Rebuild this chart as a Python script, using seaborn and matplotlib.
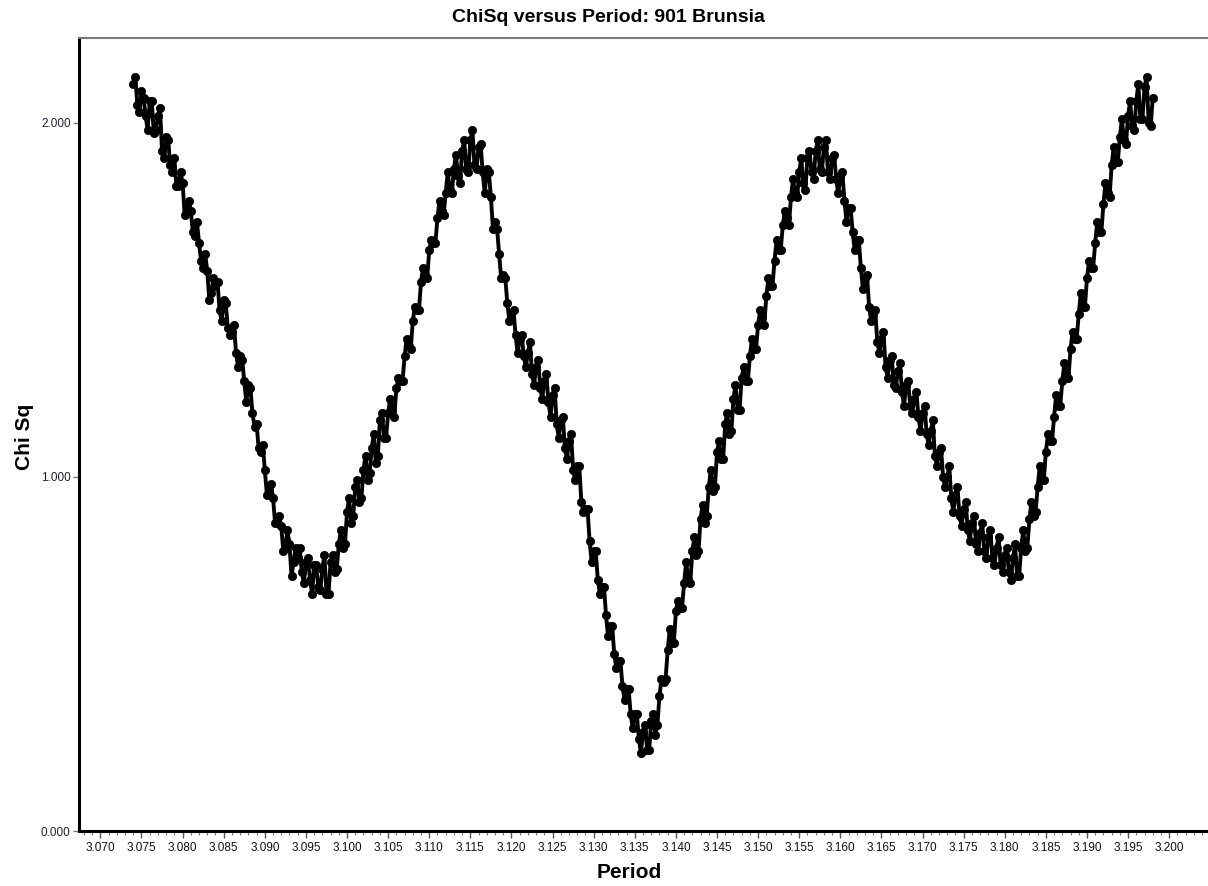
import numpy as np
import pandas as pd
import matplotlib
matplotlib.use("Agg")
import matplotlib.pyplot as plt
import seaborn as sns
from matplotlib.ticker import MultipleLocator, FormatStrFormatter

# Period search grid (step 0.0005 d), plus the intermediate trial periods
period_start = 3.0740
period_step = 0.0005

# Chi-square values at the main grid periods
chisq_grid = [
    2.11, 2.05, 2.09, 2.02, 2.06, 1.97, 2.02, 1.92, 1.96, 1.88,
    1.90, 1.82, 1.83, 1.76, 1.75, 1.68, 1.66, 1.59, 1.58, 1.52,
    1.54, 1.47, 1.50, 1.42, 1.41, 1.35, 1.34, 1.27, 1.26, 1.18,
    1.15, 1.07, 1.02, 0.96, 0.94, 0.87, 0.86, 0.80, 0.81, 0.76,
    0.77, 0.73, 0.76, 0.71, 0.75, 0.69, 0.74, 0.67, 0.76, 0.73,
    0.81, 0.80, 0.90, 0.87, 0.97, 0.93, 1.02, 0.99, 1.08, 1.04,
    1.16, 1.11, 1.18, 1.19, 1.25, 1.27, 1.34, 1.37, 1.44, 1.47,
    1.55, 1.57, 1.64, 1.66, 1.73, 1.75, 1.80, 1.81, 1.87, 1.85,
    1.92, 1.87, 1.95, 1.88, 1.93, 1.86, 1.87, 1.79, 1.72, 1.63,
    1.57, 1.49, 1.46, 1.40, 1.39, 1.34, 1.35, 1.29, 1.31, 1.25,
    1.27, 1.21, 1.23, 1.15, 1.16, 1.08, 1.10, 1.02, 1.03, 0.93,
    0.91, 0.82, 0.79, 0.71, 0.69, 0.61, 0.58, 0.50, 0.48, 0.41,
    0.40, 0.33, 0.33, 0.26, 0.28, 0.23, 0.31, 0.27, 0.38, 0.42,
    0.51, 0.53, 0.62, 0.63, 0.70, 0.71, 0.79, 0.78, 0.88, 0.87,
    0.97, 0.96, 1.07, 1.05, 1.15, 1.12, 1.22, 1.19, 1.28, 1.27,
    1.34, 1.36, 1.43, 1.45, 1.51, 1.54, 1.61, 1.64, 1.71, 1.73,
    1.79, 1.80, 1.86, 1.83, 1.90, 1.86, 1.92, 1.87, 1.93, 1.86,
    1.90, 1.84, 1.85, 1.78, 1.76, 1.69, 1.67, 1.59, 1.56, 1.48,
    1.46, 1.38, 1.39, 1.31, 1.33, 1.26, 1.30, 1.24, 1.26, 1.20,
    1.22, 1.17, 1.18, 1.12, 1.13, 1.06, 1.07, 1.00, 1.00, 0.94,
    0.95, 0.89, 0.91, 0.85, 0.87, 0.81, 0.84, 0.79, 0.83, 0.77,
    0.80, 0.75, 0.78, 0.73, 0.77, 0.72, 0.80, 0.79, 0.88, 0.89,
    0.97, 0.99, 1.07, 1.10, 1.17, 1.20, 1.27, 1.29, 1.36, 1.39,
    1.46, 1.48, 1.56, 1.59, 1.66, 1.69, 1.77, 1.80, 1.88, 1.89,
    1.96, 1.95, 2.02, 1.99, 2.06, 2.01, 2.10, 2.00, 2.07,
]

# Chi-square values at the intermediate periods (half a step later)
chisq_mid = [
    2.13, 2.03, 2.07, 1.98, 2.06, 1.98, 2.04, 1.90, 1.95, 1.86,
    1.82, 1.86, 1.74, 1.78, 1.69, 1.72, 1.61, 1.63, 1.50, 1.56,
    1.55, 1.44, 1.49, 1.40, 1.43, 1.31, 1.33, 1.21, 1.25, 1.14,
    1.08, 1.09, 0.95, 0.98, 0.87, 0.89, 0.79, 0.85, 0.72, 0.80,
    0.80, 0.70, 0.77, 0.67, 0.75, 0.68, 0.78, 0.67, 0.78, 0.74,
    0.85, 0.81, 0.94, 0.89, 0.99, 0.94, 1.06, 1.01, 1.12, 1.06,
    1.18, 1.11, 1.22, 1.17, 1.28, 1.27, 1.39, 1.36, 1.48, 1.47,
    1.59, 1.56, 1.67, 1.66, 1.78, 1.74, 1.86, 1.80, 1.91, 1.83,
    1.95, 1.86, 1.98, 1.87, 1.94, 1.80, 1.86, 1.70, 1.70, 1.56,
    1.56, 1.44, 1.47, 1.35, 1.40, 1.31, 1.38, 1.26, 1.33, 1.22,
    1.29, 1.17, 1.25, 1.11, 1.17, 1.05, 1.12, 0.99, 1.03, 0.90,
    0.91, 0.76, 0.79, 0.67, 0.69, 0.55, 0.58, 0.46, 0.48, 0.37,
    0.40, 0.29, 0.33, 0.22, 0.30, 0.23, 0.33, 0.30, 0.43, 0.43,
    0.57, 0.53, 0.65, 0.63, 0.76, 0.70, 0.83, 0.79, 0.92, 0.89,
    1.02, 0.97, 1.10, 1.05, 1.18, 1.13, 1.26, 1.19, 1.31, 1.27,
    1.39, 1.36, 1.47, 1.43, 1.56, 1.54, 1.67, 1.64, 1.75, 1.71,
    1.84, 1.79, 1.90, 1.81, 1.92, 1.84, 1.95, 1.86, 1.95, 1.84,
    1.91, 1.80, 1.86, 1.72, 1.76, 1.64, 1.67, 1.53, 1.57, 1.44,
    1.47, 1.35, 1.41, 1.28, 1.34, 1.25, 1.32, 1.20, 1.27, 1.18,
    1.24, 1.13, 1.20, 1.09, 1.16, 1.03, 1.08, 0.97, 1.03, 0.90,
    0.97, 0.86, 0.93, 0.82, 0.89, 0.79, 0.87, 0.77, 0.85, 0.75,
    0.83, 0.73, 0.80, 0.71, 0.81, 0.72, 0.85, 0.80, 0.93, 0.90,
    1.03, 0.99, 1.12, 1.10, 1.23, 1.20, 1.32, 1.28, 1.41, 1.39,
    1.52, 1.48, 1.61, 1.59, 1.72, 1.69, 1.83, 1.79, 1.93, 1.89,
    2.01, 1.94, 2.06, 1.98, 2.11, 2.01, 2.13, 1.99,
]

period_grid = np.round(period_start + period_step * np.arange(len(chisq_grid)), 5)
period_mid = np.round(period_start + period_step * (np.arange(len(chisq_mid)) + 0.5), 5)

title = "ChiSq versus Period: 901 Brunsia"
x_label = "Period"
y_label = "Chi Sq"

df = pd.DataFrame({
    "Period": np.concatenate([period_grid, period_mid]),
    "ChiSq": np.concatenate([chisq_grid, chisq_mid]),
}).sort_values("Period").reset_index(drop=True)

sns.set_theme(style="white")
plt.rcParams["font.family"] = ["Liberation Sans", "DejaVu Sans"]
plt.rcParams["text.color"] = "black"

fig = plt.figure(figsize=(12.08, 8.86), dpi=100)
ax = fig.add_axes([79 / 1208, 1 - 831 / 886, (1207 - 79) / 1208, (831 - 38) / 886])

sns.lineplot(data=df, x="Period", y="ChiSq", ax=ax, sort=False, estimator=None,
             color="black", linewidth=2.8, marker="o", markersize=6,
             markeredgecolor="black", markeredgewidth=0.5)

ax.set_xlim(3.0674, 3.2046)
ax.set_ylim(0.0, 2.239)

ax.xaxis.set_major_locator(MultipleLocator(0.005))
ax.xaxis.set_minor_locator(MultipleLocator(0.001))
ax.xaxis.set_major_formatter(FormatStrFormatter("%.3f"))
ax.yaxis.set_major_locator(MultipleLocator(1.0))
ax.yaxis.set_major_formatter(FormatStrFormatter("%.3f"))

ax.tick_params(axis="x", which="major", direction="out", length=5, width=1,
               color="#555555", labelsize=8.5, labelcolor="#111111", pad=3,
               bottom=True)
ax.tick_params(axis="x", which="minor", direction="out", length=3, width=0.8,
               color="#777777", bottom=True)
ax.tick_params(axis="y", which="major", direction="out", length=4, width=1,
               color="#777777", labelsize=8.5, labelcolor="#222233", pad=2,
               left=True)

ax.set_xlabel("")
ax.set_ylabel("")

for side in ["left", "bottom"]:
    ax.spines[side].set_color("black")
    ax.spines[side].set_linewidth(2.2)
ax.spines["top"].set_color("#777777")
ax.spines["top"].set_linewidth(1.5)
ax.spines["right"].set_visible(False)

fig.text(608 / 1208, 1 - 17 / 886, title, ha="center", va="center",
         fontsize=14, fontweight="bold", color="black")
fig.text(629 / 1208, 1 - 872 / 886, x_label, ha="center", va="center",
         fontsize=15, fontweight="bold", color="black")
fig.text(25 / 1208, 1 - 437 / 886, y_label, ha="center", va="center",
         fontsize=15, fontweight="bold", rotation=90, color="black")

fig.savefig("out.png", dpi=100, facecolor="white")
